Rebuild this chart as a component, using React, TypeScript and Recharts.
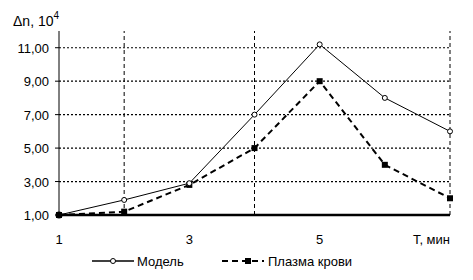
import React from 'react';
import { LineChart, Line, XAxis, YAxis, ReferenceLine } from 'recharts';

const times = [1, 2, 3, 4, 5, 6, 7];
const modelValues = [1.0, 1.9, 2.9, 7.0, 11.2, 8.0, 6.0];
const plasmaValues = [1.0, 1.2, 2.8, 5.0, 9.0, 4.0, 2.0];
const xTicks = [1, 3, 5, 7];
const yTicks = [1, 3, 5, 7, 9, 11];
const hGrid = [3, 5, 7, 9, 11];
const vGrid = [2, 4, 7];
const seriesNames = ['Модель', 'Плазма крови'];
const xAxisTitle = 'T, мин';
const yAxisTitle = 'Δn, 10';

const data = times.map((t, i) => ({ t, model: modelValues[i], plasma: plasmaValues[i] }));

const FONT = '"Liberation Sans", Arial, sans-serif';

const fmt = (v: number) => v.toFixed(2).replace('.', ',');

const XTick = (props: any) => {
  const { x, y, payload } = props;
  const last = payload.value === 7;
  return (
    <text x={x} y={y + 21} textAnchor={last ? 'end' : 'middle'} fontFamily={FONT} fontSize={13} fill="#000">
      {last ? xAxisTitle : payload.value}
    </text>
  );
};

const YTick = (props: any) => {
  const { x, y, payload } = props;
  return (
    <text x={x - 4} y={y + 5} textAnchor="end" fontFamily={FONT} fontSize={13} fill="#000">
      {fmt(payload.value)}
    </text>
  );
};

const ModelDot = (props: any) => {
  const { cx, cy, index } = props;
  if (index === 0) return <circle key={index} cx={cx} cy={cy} r={3.5} fill="#000" />;
  return <circle key={index} cx={cx} cy={cy} r={2.5} fill="#fff" stroke="#000" strokeWidth={1} />;
};

const PlasmaDot = (props: any) => {
  const { cx, cy, index } = props;
  return <rect key={index} x={cx - 3} y={cy - 3} width={6} height={6} fill="#000" />;
};

export default function App() {
  return (
    <div style={{ position: 'absolute', left: 0, top: 0, width: 473, height: 280, background: '#fff' }}>
      <svg width={473} height={40} style={{ position: 'absolute', left: 0, top: 0 }}>
        <text x={13} y={26} fontFamily={FONT} fontSize={14} fill="#000">
          {yAxisTitle}
          <tspan dy={-7} fontSize={10}>4</tspan>
        </text>
      </svg>
      <LineChart width={473} height={280} data={data} margin={{ top: 31, right: 23, left: 0, bottom: 30 }}>
        {hGrid.map((v) => (
          <ReferenceLine key={'h' + v} y={v} stroke="#000" strokeWidth={1.2} strokeDasharray="2 2" />
        ))}
        {vGrid.map((v) => (
          <ReferenceLine key={'v' + v} x={v} stroke="#000" strokeWidth={1} strokeDasharray="4 3" />
        ))}
        <XAxis
          dataKey="t"
          type="number"
          domain={[1, 7]}
          ticks={xTicks}
          tick={<XTick />}
          tickLine={false}
          axisLine={{ stroke: '#000', strokeWidth: 2.5 }}
          height={35}
          interval={0}
        />
        <YAxis
          type="number"
          domain={[1, 12]}
          ticks={yTicks}
          tick={<YTick />}
          tickLine={{ stroke: '#000' }}
          tickSize={4}
          axisLine={{ stroke: '#000', strokeWidth: 1 }}
          width={59}
          interval={0}
        />
        <Line
          type="linear"
          dataKey="plasma"
          stroke="#000"
          strokeWidth={2}
          strokeDasharray="6 4"
          dot={<PlasmaDot />}
          isAnimationActive={false}
        />
        <Line
          type="linear"
          dataKey="model"
          stroke="#000"
          strokeWidth={1}
          dot={<ModelDot />}
          isAnimationActive={false}
        />
      </LineChart>
      <svg width={473} height={20} style={{ position: 'absolute', left: 0, top: 251 }}>
        <line x1={92} y1={10} x2={134} y2={10} stroke="#000" strokeWidth={1.5} />
        <circle cx={113} cy={10} r={2.5} fill="#fff" stroke="#000" />
        <text x={137} y={15} fontFamily={FONT} fontSize={13} fill="#000">{seriesNames[0]}</text>
        <line x1={222} y1={10} x2={264} y2={10} stroke="#000" strokeWidth={2} strokeDasharray="6 4" />
        <rect x={245} y={7} width={6} height={6} fill="#000" />
        <text x={268} y={15} fontFamily={FONT} fontSize={13} fill="#000">{seriesNames[1]}</text>
      </svg>
    </div>
  );
}
